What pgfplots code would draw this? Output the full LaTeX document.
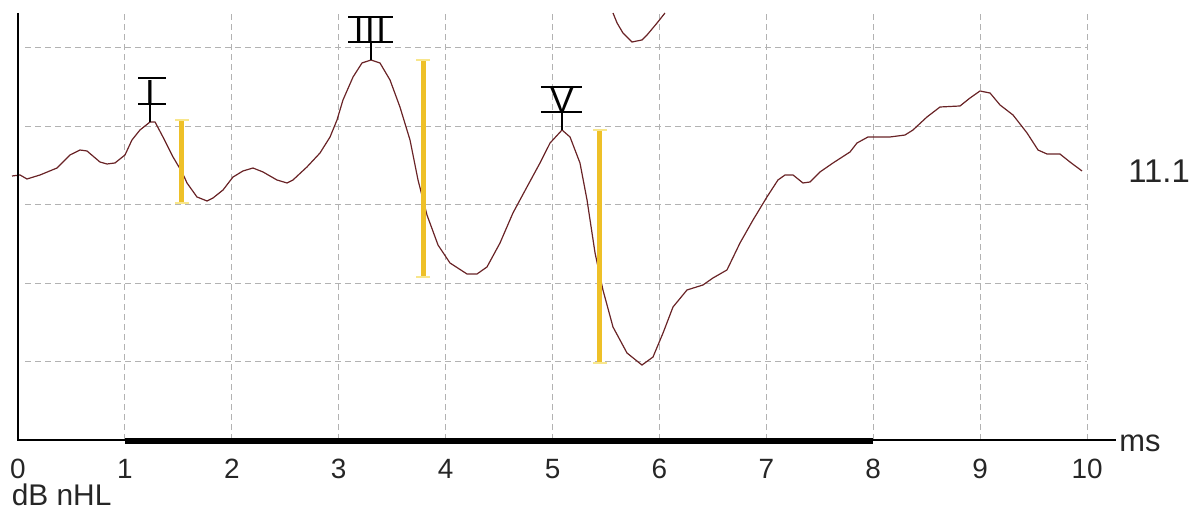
\documentclass[border=0pt]{standalone}
\usepackage{pgfplots}
\pgfplotsset{compat=1.18}
\usepackage{fontspec}
\setmainfont{Liberation Sans}
\definecolor{wave}{RGB}{105,35,38}
\definecolor{barc}{RGB}{238,192,40}
\definecolor{capc}{RGB}{248,230,140}
\definecolor{gridc}{RGB}{178,178,178}
\begin{document}
\begin{tikzpicture}
\useasboundingbox (-18bp,-76bp) rectangle (1186bp,440bp);
\begin{axis}[
  at={(0,0)}, anchor=south west,
  x=106.9bp, y=78.5bp,
  xmin=0, xmax=10, ymin=0, ymax=5.44,
  clip=false,
  axis line style={draw=none},
  tick style={draw=none},
  major tick length=0pt,
  xtick={0,...,10}, ytick=\empty,
  xmajorgrids,
  major grid style={gridc, line width=0.9bp, dash pattern=on 6bp off 4bp},
  xticklabel style={font=\fontsize{28}{28}\selectfont, anchor=north, inner sep=0pt, yshift=-19bp, text=black!85},
  /pgf/number format/assume math mode=true,
]
% horizontal grid
\foreach \g in {1,...,5} {
  \edef\tmp{\noexpand\draw[gridc, line width=0.9bp, dash pattern=on 6bp off 4bp, dash phase=6bp] (axis cs:0.03,\g) -- (axis cs:10,\g);}
  \tmp
}
% main waveform
\addplot[wave, line width=1.2bp] coordinates {
(-0.056,3.363) (0.019,3.376) (0.084,3.325) (0.206,3.376) (0.365,3.465) (0.486,3.631)
(0.580,3.694) (0.645,3.682) (0.767,3.541) (0.833,3.516) (0.907,3.529) (1.001,3.631)
(1.066,3.822) (1.141,3.949) (1.235,4.051) (1.282,4.051) (1.356,3.860) (1.450,3.605)
(1.534,3.414) (1.581,3.274) (1.674,3.096) (1.768,3.045) (1.824,3.083) (1.918,3.185)
(2.011,3.350) (2.105,3.427) (2.198,3.465) (2.292,3.414) (2.423,3.312) (2.516,3.274)
(2.572,3.312) (2.703,3.478) (2.825,3.656) (2.919,3.860) (2.984,4.076) (3.040,4.331)
(3.134,4.624) (3.218,4.803) (3.302,4.841) (3.386,4.803) (3.480,4.586) (3.573,4.242)
(3.667,3.822) (3.742,3.312) (3.826,2.866) (3.929,2.484) (4.041,2.255) (4.200,2.115)
(4.294,2.115) (4.387,2.204) (4.509,2.510) (4.630,2.892) (4.761,3.223) (4.883,3.529)
(4.977,3.783) (5.089,3.949) (5.164,3.860) (5.257,3.529) (5.323,3.057) (5.398,2.382)
(5.472,1.911) (5.566,1.439) (5.697,1.108) (5.837,0.955) (5.940,1.057) (6.034,1.363)
(6.127,1.694) (6.258,1.911) (6.408,1.975) (6.501,2.064) (6.632,2.166) (6.754,2.510)
(6.876,2.803) (7.006,3.096) (7.109,3.312) (7.175,3.376) (7.250,3.376) (7.343,3.274)
(7.409,3.287) (7.502,3.414) (7.624,3.529) (7.783,3.669) (7.848,3.783) (7.951,3.860)
(8.157,3.860) (8.297,3.885) (8.372,3.949) (8.503,4.115) (8.625,4.242) (8.812,4.255)
(8.906,4.357) (8.999,4.446) (9.093,4.420) (9.186,4.268) (9.308,4.140) (9.439,3.911)
(9.542,3.694) (9.626,3.643) (9.747,3.643) (9.841,3.541) (9.953,3.427)
};
% piece of the trace above, cut at the top
\addplot[wave, line width=1.2bp] coordinates {
(5.566,5.439) (5.604,5.312) (5.659,5.185) (5.744,5.070) (5.837,5.096) (5.884,5.159) (5.978,5.312) (6.052,5.439)
};
% amplitude bars: caps then bars
\addplot[only marks, mark=-, mark size=7bp, mark options={capc, line width=2bp}] coordinates {
(1.53,3.019) (1.53,4.076) (3.789,2.076) (3.789,4.841) (5.444,0.981) (5.444,3.949)};
\addplot[barc, line width=5bp] coordinates {(1.53,3.019) (1.53,4.076)};
\addplot[barc, line width=5bp] coordinates {(3.789,2.076) (3.789,4.841)};
\addplot[barc, line width=5bp] coordinates {(5.444,0.981) (5.444,3.949)};
% axes
\draw[black, line width=1.3bp] (axis cs:0,5.44) -- (axis cs:0,0) -- (axis cs:10.27,0);
\draw[black, line width=5.5bp] (axis cs:1,-0.01) -- (axis cs:8,-0.01);
% peak labels
\draw[black, line width=1.8bp] (axis cs:1.235,4.051) -- (axis cs:1.235,4.280);
\draw[black, line width=1.8bp] (axis cs:1.123,4.280) -- (axis cs:1.385,4.280);
\draw[black, line width=1.8bp] (axis cs:1.123,4.611) -- (axis cs:1.385,4.611);
\node[anchor=base, inner sep=0pt, font=\fontsize{35}{35}\selectfont] at (axis cs:1.235,4.280) {I};
\draw[black, line width=1.8bp] (axis cs:3.302,4.841) -- (axis cs:3.302,5.070);
\draw[black, line width=1.8bp] (axis cs:3.087,5.070) -- (axis cs:3.508,5.070);
\draw[black, line width=1.8bp] (axis cs:3.087,5.389) -- (axis cs:3.508,5.389);
\node[anchor=base, inner sep=0pt, font=\fontsize{35}{35}\selectfont] at (axis cs:3.293,5.070) {I\kern1.5bp I\kern1.5bp I};
\draw[black, line width=1.8bp] (axis cs:5.089,3.949) -- (axis cs:5.089,4.178);
\draw[black, line width=1.8bp] (axis cs:4.892,4.178) -- (axis cs:5.276,4.178);
\draw[black, line width=1.8bp] (axis cs:4.892,4.497) -- (axis cs:5.276,4.497);
\node[anchor=base, inner sep=0pt, font=\fontsize{35}{35}\selectfont] at (axis cs:5.089,4.178) {V};
% texts
\node[anchor=west, inner sep=0pt, font=\fontsize{31}{31}\selectfont, text=black!85] at (axis cs:10.30,-0.04) {ms};
\node[anchor=center, inner sep=0pt, font=\fontsize{33}{33}\selectfont, text=black!85] at (axis cs:10.674,3.427) {11.1};
\node[anchor=base west, inner sep=0pt, font=\fontsize{30}{30}\selectfont, text=black!85] at (axis cs:-0.06,-0.83) {dB nHL};
\end{axis}
\end{tikzpicture}
\end{document}
